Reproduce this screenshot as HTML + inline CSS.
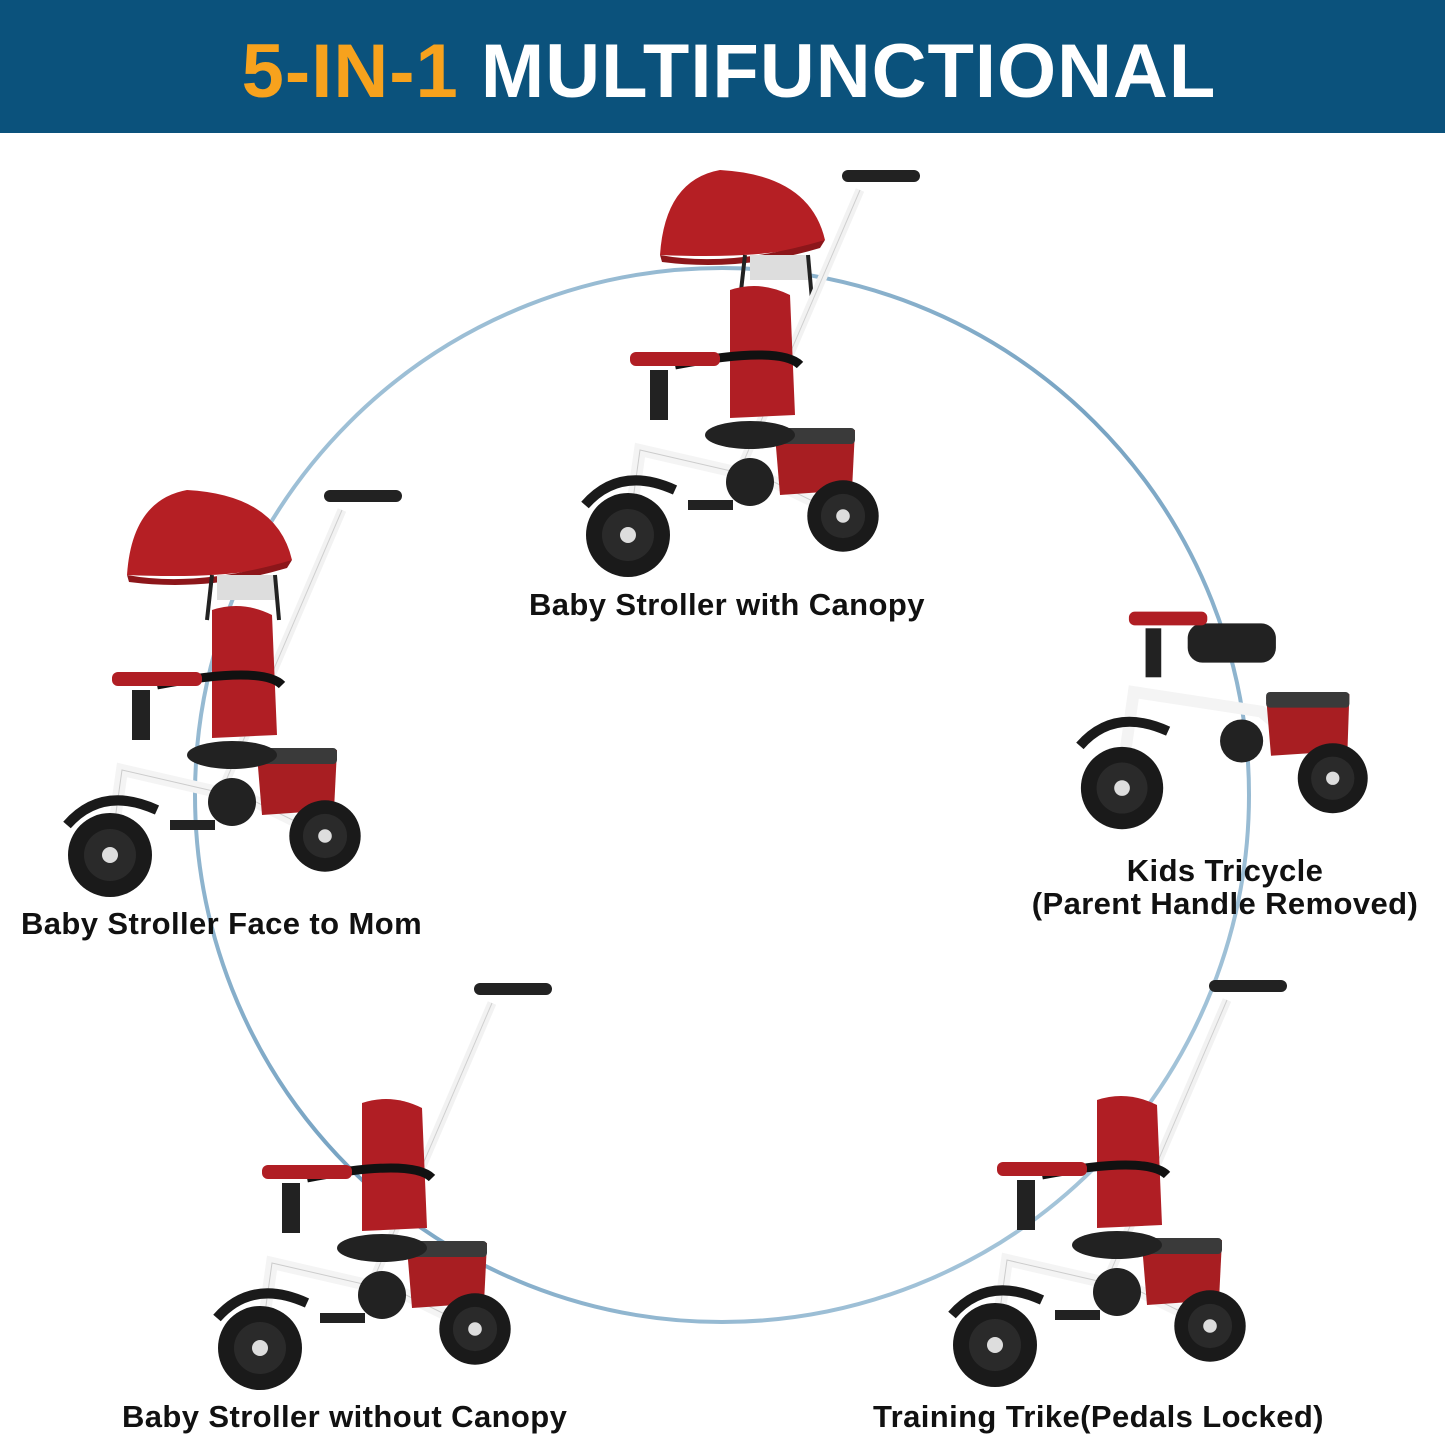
<!DOCTYPE html>
<html><head><meta charset="utf-8"><style>
html,body{margin:0;padding:0;background:#fff}
body{width:1445px;height:1445px;position:relative;overflow:hidden;font-family:"Liberation Sans",Arial,sans-serif}
.hdr{position:absolute;left:0;top:0;width:1445px;height:133px;background:#0b527c}
.lbl{position:absolute;font-weight:bold;font-size:31px;letter-spacing:0.4px;color:#111;white-space:nowrap;line-height:1}
</style></head><body>
<div class="hdr"></div>
<svg width="1445" height="1445" style="position:absolute;left:0;top:0">
<defs>
<linearGradient id="g" x1="0" y1="0" x2="1" y2="1">
<stop offset="0" stop-color="#9fc2d8"/><stop offset="0.5" stop-color="#5f93b8"/><stop offset="1" stop-color="#a9c9dd"/>
</linearGradient>
<g id="wheel"><circle r="42" fill="#1a1a1a"/><circle r="26" fill="#2a2a2a"/><circle r="8" fill="#ddd"/></g>
<g id="trike">
<g class="handle">
<line x1="160" y1="310" x2="280" y2="30" stroke="#f2f2f2" stroke-width="9"/>
<line x1="160" y1="310" x2="280" y2="30" stroke="#cfcfcf" stroke-width="1"/>
<rect x="262" y="10" width="78" height="12" rx="6" fill="#222"/>
</g>
<path d="M48 375 L60 290 L190 320 L263 356" fill="none" stroke="#f4f4f4" stroke-width="12"/>
<path d="M48 375 L60 290 L190 320 L263 356" fill="none" stroke="#ccc" stroke-width="1"/>
<circle cx="170" cy="322" r="24" fill="#222"/>
<path d="M195 275 L275 270 L272 330 L200 335 Z" fill="#a81e22"/>
<rect x="195" y="268" width="80" height="16" rx="4" fill="#3a3a3a"/>
<path d="M150 130 Q180 120 210 135 L215 255 L150 258 Z" fill="#b01e24"/>
<ellipse cx="170" cy="275" rx="45" ry="14" fill="#222"/>
<path d="M95 205 Q200 185 220 205" fill="none" stroke="#111" stroke-width="9"/>
<rect x="50" y="192" width="90" height="14" rx="6" fill="#b01e24"/>
<rect x="70" y="210" width="18" height="50" fill="#222"/>
<rect x="108" y="340" width="45" height="10" fill="#222"/>
<path d="M5 345 Q40 305 95 330" fill="none" stroke="#1a1a1a" stroke-width="10"/>
<use href="#wheel" x="48" y="375"/>
<g transform="translate(263,356) scale(0.85)"><use href="#wheel"/></g>
</g>
<g id="canopy">
<path d="M80 95 Q85 20 140 10 Q230 15 245 80 Q200 100 80 95 Z" fill="#b51f24"/>
<path d="M80 95 Q150 108 245 80 L240 88 Q160 112 82 102 Z" fill="#8c161a"/>
<rect x="170" y="95" width="60" height="25" fill="#ddd"/>
<line x1="165" y1="95" x2="160" y2="140" stroke="#222" stroke-width="4"/>
<line x1="228" y1="95" x2="232" y2="140" stroke="#222" stroke-width="4"/>
</g>
</defs>
<text x="729" y="97" text-anchor="middle" font-family="Liberation Sans, Arial, sans-serif" font-weight="bold" font-size="76" letter-spacing="1"><tspan fill="#f7a21d">5-IN-1</tspan><tspan fill="#fff"> MULTIFUNCTIONAL</tspan></text>
<circle cx="722" cy="795" r="527" fill="none" stroke="url(#g)" stroke-width="4" opacity="0.85"/>
<g transform="translate(580,160)"><use href="#canopy"/><use href="#trike"/></g>
<g transform="translate(62,480)"><use href="#canopy" transform="translate(-15,0)"/><use href="#trike"/></g>
<g transform="translate(212,973)"><use href="#trike"/></g>
<g transform="translate(947,970)"><use href="#trike"/></g>
<g transform="translate(1075,545) scale(0.98)">
<rect x="115" y="80" width="90" height="40" rx="15" fill="#222"/>
<path d="M48 235 L60 150 L190 170 L263 230" fill="none" stroke="#f4f4f4" stroke-width="12"/>
<path d="M195 155 L280 152 L278 210 L200 215 Z" fill="#a81e22"/>
<rect x="195" y="150" width="85" height="16" rx="4" fill="#3a3a3a"/>
<rect x="55" y="68" width="80" height="14" rx="6" fill="#b01e24"/>
<rect x="72" y="85" width="16" height="50" fill="#222"/>
<circle cx="170" cy="200" r="22" fill="#222"/>
<path d="M5 205 Q40 165 95 190" fill="none" stroke="#1a1a1a" stroke-width="10"/>
<use href="#wheel" x="48" y="248"/>
<g transform="translate(263,238) scale(0.85)"><use href="#wheel"/></g>
</g>
</svg>
<div class="lbl" style="left:529px;top:589px">Baby Stroller with Canopy</div>
<div class="lbl" style="left:21px;top:908px">Baby Stroller Face to Mom</div>
<div class="lbl" style="left:1019px;top:854px;width:412px;text-align:center;line-height:33px">Kids Tricycle<br>(Parent Handle Removed)</div>
<div class="lbl" style="left:122px;top:1401px">Baby Stroller without Canopy</div>
<div class="lbl" style="left:873px;top:1401px">Training Trike(Pedals Locked)</div>
</body></html>
